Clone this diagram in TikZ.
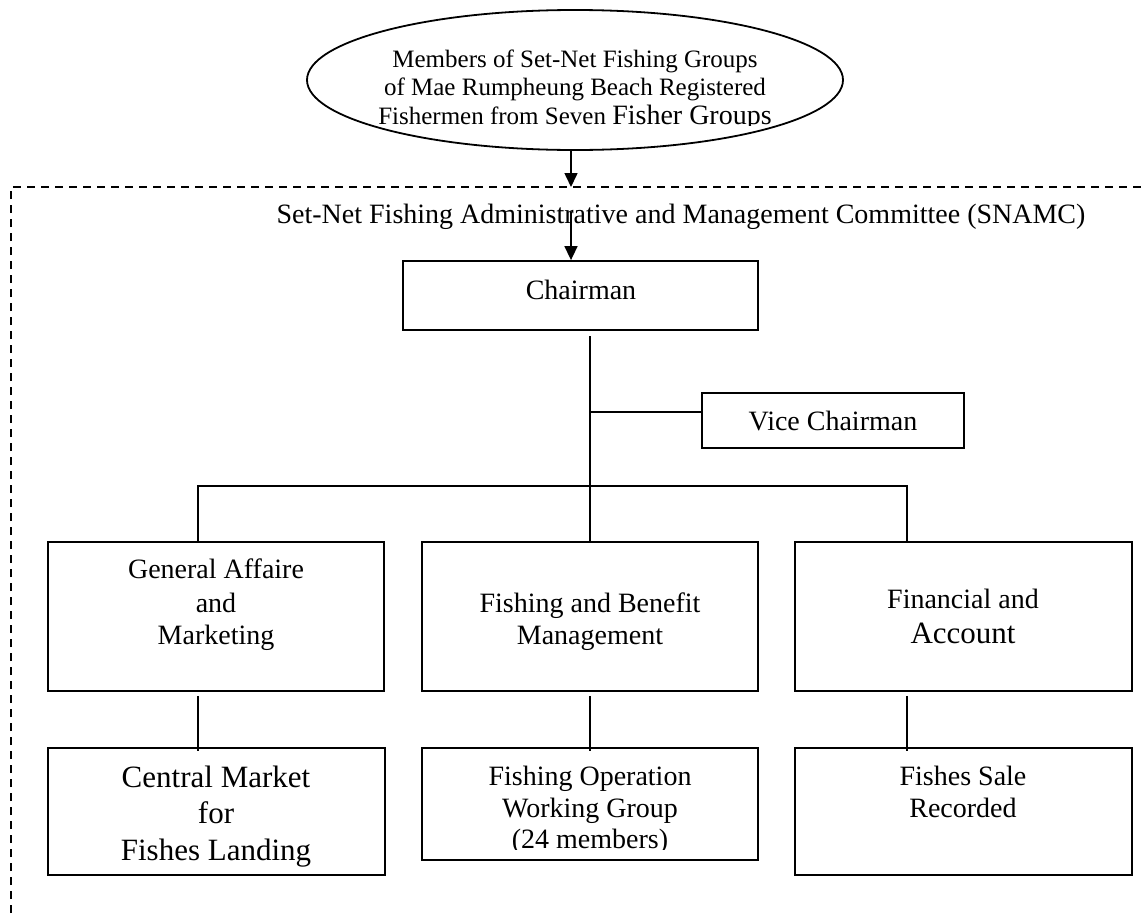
\documentclass[tikz,border=0pt]{standalone}
\usepackage{fontspec}
\setmainfont{Liberation Serif}
\usetikzlibrary{shapes.geometric,arrows.meta,calc}
\newcommand\fsz[1]{\fontsize{#1}{#1}\selectfont}
\begin{document}
\begin{tikzpicture}[x=1pt,y=-1pt,
  box/.style={draw,line width=1.8pt,rectangle,inner sep=0pt},
  oval/.style={draw,line width=1.8pt,ellipse,inner sep=0pt},
  txt/.style={anchor=base,inner sep=0pt,font=\fsz{28}},
  big/.style={anchor=base,inner sep=0pt,font=\fsz{31}},
  small/.style={anchor=base,inner sep=0pt,font=\fsz{25}},
  link/.style={line width=1.6pt},
  flow/.style={line width=1.6pt,-{Triangle[width=13pt,length=14pt]}},
  frame/.style={line width=1.8pt,dash pattern=on 8pt off 6pt}]
\useasboundingbox (0,0) rectangle (1147,913);

% outer committee frame (open at the right and the bottom)
\draw[frame] (11,913) -- (11,187) -- (1147,187);

% members ellipse
\node[oval,minimum width=536pt,minimum height=140pt] (top) at (575,80) {};
\begin{scope}
  \clip (300,20) rectangle (860,125);
  \node[small] (m1) at (575,67) {Members of Set-Net Fishing Groups};
  \node[small] (m2) at (575,95) {of Mae Rumpheung Beach Registered};
  \node[small] (m3) at (575,124) {Fishermen from Seven {\fsz{28}Fisher Groups}};
\end{scope}

% committee title
\node[txt] (snamc) at (681,223) {Set-Net Fishing Administrative and Management Committee (SNAMC)};

% chairman and vice chairman
\node[box,minimum width=355pt,minimum height=69pt] (chair) at (580.5,295.5) {};
\node[txt] (chairT) at (581,299) {Chairman};
\node[box,minimum width=262pt,minimum height=55pt] (vice) at (833,420.5) {};
\node[txt] (viceT) at (833,430) {Vice Chairman};

% arrows into the committee
\coordinate (dtop) at (571,187);
\coordinate (astart) at (571,212);
\draw[flow] (top.south -| dtop) -- (dtop);
\draw[flow] (astart) -- (chair.north -| astart);

% departments
\node[box,minimum width=336pt,minimum height=149pt] (ga) at (216,616.5) {};
\node[txt] (ga1) at (216,578) {General Affaire};
\node[txt] (ga2) at (216,612) {and};
\node[txt] (ga3) at (216,644) {Marketing};

\node[box,minimum width=336pt,minimum height=149pt] (fb) at (590,616.5) {};
\node[txt] (fb1) at (590,612) {Fishing and Benefit};
\node[txt] (fb2) at (590,644) {Management};

\node[box,minimum width=337pt,minimum height=149pt] (fa) at (963.5,616.5) {};
\node[txt] (fa1) at (963,608) {Financial and};
\node[big] (fa2) at (963,643) {Account};

% units
\node[box,minimum width=337pt,minimum height=127pt] (cm) at (216.5,811.5) {};
\node[big] (cm1) at (216,787) {Central Market};
\node[big] (cm2) at (216,823) {for};
\node[big] (cm3) at (216,860) {Fishes Landing};

\node[box,minimum width=336pt,minimum height=112pt] (fo) at (590,804) {};
\node[txt] (fo1) at (590,785) {Fishing Operation};
\node[txt] (fo2) at (590,817) {Working Group};
\begin{scope}
  \clip (430,820) rectangle (750,849);
  \node[txt] (fo3) at (590,848) {(24 members)};
\end{scope}

\node[box,minimum width=337pt,minimum height=127pt] (fs) at (963.5,811.5) {};
\node[txt] (fs1) at (963,785) {Fishes Sale};
\node[txt] (fs2) at (963,817) {Recorded};

% organisation tree
\coordinate (t0) at (590,336);
\coordinate (tv) at (590,412);
\coordinate (bj) at (590,486);
\coordinate (bl) at (198,486);
\coordinate (br) at (907,486);
\draw[link] (t0) -- (bj);
\draw[link] (tv) -- (tv -| vice.west);
\draw[link] (ga.north -| bl) -- (bl) -- (br) -- (fa.north -| br);
\draw[link] (bj) -- (fb.north);

% department to unit links
\draw[link] ($(ga.south -| bl)+(0,4)$) -- ($(cm.north -| bl)+(0,4)$);
\draw[link] ($(fb.south)+(0,4)$) -- ($(fo.north)+(0,4)$);
\draw[link] ($(fa.south -| br)+(0,4)$) -- ($(fs.north -| br)+(0,4)$);
\end{tikzpicture}
\end{document}
